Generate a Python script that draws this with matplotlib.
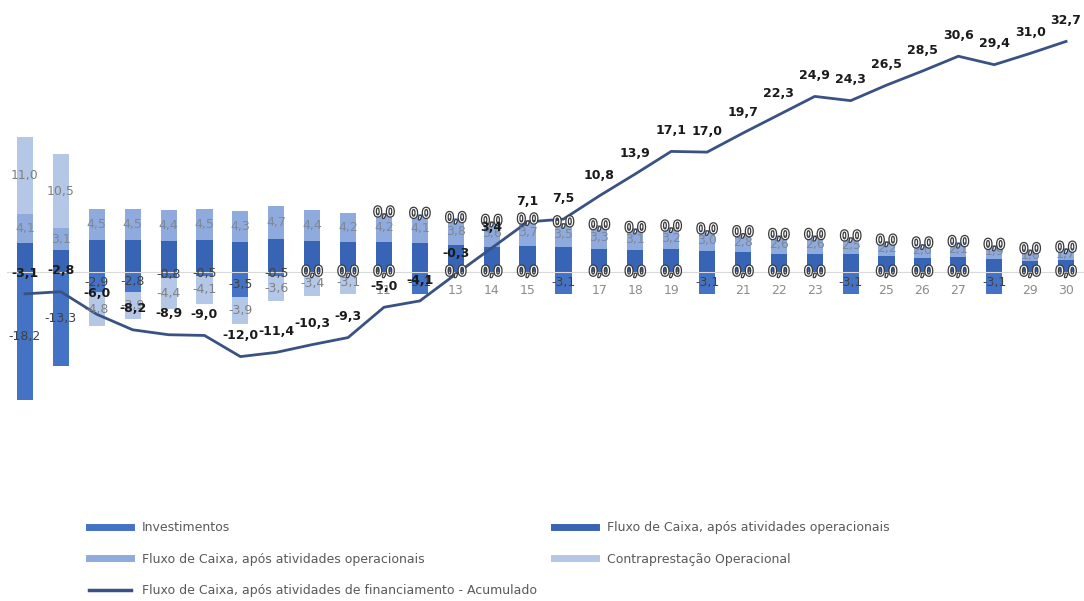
import numpy as np
import matplotlib
matplotlib.use("Agg")
import matplotlib.pyplot as plt
import matplotlib.patheffects as pe
from matplotlib.lines import Line2D

# fluxo de caixa do projeto, anos 1..30 (R$ milhões)
anos = list(range(1, 31))

investimentos = [-18.2, -13.3, -2.9, -2.8, -0.8, -0.5, -3.5, -0.5, 0.0, 0.0,
                 0.0, -3.1, 0.0, 0.0, 0.0, -3.1, 0.0, 0.0, 0.0, -3.1,
                 0.0, 0.0, 0.0, -3.1, 0.0, 0.0, 0.0, -3.1, 0.0, 0.0]
fluxo_oper = [4.1, 3.1, 4.5, 4.5, 4.4, 4.5, 4.3, 4.7, 4.4, 4.2,
              4.2, 4.1, 3.8, 3.6, 3.7, 3.5, 3.3, 3.1, 3.2, 3.0,
              2.8, 2.6, 2.6, 2.5, 2.2, 2.0, 2.1, 1.9, 1.6, 1.7]
# serie repetida no grafico original (barra escura, sem rotulo)
fluxo_oper_escuro = list(fluxo_oper)
contraprestacao = [11.0, 10.5, -4.8, -3.9, -4.4, -4.1, -3.9, -3.6, -3.4, -3.1,
                   0.0, 0.0, 0.0, 0.0, 0.0, 0.0, 0.0, 0.0, 0.0, 0.0,
                   0.0, 0.0, 0.0, 0.0, 0.0, 0.0, 0.0, 0.0, 0.0, 0.0]
acumulado = [-3.1, -2.8, -6.0, -8.2, -8.9, -9.0, -12.0, -11.4, -10.3, -9.3,
             -5.0, -4.1, -0.3, 3.4, 7.1, 7.5, 10.8, 13.9, 17.1, 17.0,
             19.7, 22.3, 24.9, 24.3, 26.5, 28.5, 30.6, 29.4, 31.0, 32.7]

LBL_INV = "Investimentos"
LBL_FLX = "Fluxo de Caixa, após atividades operacionais"
LBL_CTR = "Contraprestação Operacional"
LBL_ACU = "Fluxo de Caixa, após atividades de financiamento - Acumulado"

C_INV = "#4472C4"
C_FLX_D = "#3764B4"
C_FLX = "#8FAADC"
C_CTR = "#B4C7E7"
C_LINE = "#3A5283"

def fmt(v):
    return f"{v:.1f}".replace(".", ",")

hollow = [pe.withStroke(linewidth=1.8, foreground="#3a3a3a")]

fig = plt.figure(figsize=(10.84, 6.01), dpi=100)
ax = fig.add_axes([0.0065, 0.3128, 0.9935, 0.657])

x = np.array(anos)
W = 0.45
pos_base = np.zeros(len(x))
neg_base = np.zeros(len(x))

# (valores, cor, cor do rotulo, mostra rotulo)
series = [
    (investimentos, C_INV, "#404040", True),
    (fluxo_oper_escuro, C_FLX_D, None, False),
    (fluxo_oper, C_FLX, "#7F8798", True),
    (contraprestacao, C_CTR, "#808080", True),
]

labels_to_draw = []
for vals, col, lcol, show in series:
    v = np.array(vals)
    bottom = np.where(v >= 0, pos_base, neg_base)
    ax.bar(x, v, W, bottom=bottom, color=col, zorder=2)
    if show:
        for xi, vi, bi in zip(x, v, bottom):
            labels_to_draw.append((xi, bi + vi / 2, vi, lcol))
    pos_base = pos_base + np.where(v >= 0, v, 0)
    neg_base = neg_base + np.where(v < 0, v, 0)

for xi, yi, vi, lcol in labels_to_draw:
    if vi == 0:
        ax.text(xi, yi, fmt(vi), ha="center", va="center", fontsize=9.5,
                color="white", path_effects=hollow, zorder=5)
    else:
        ax.text(xi, yi, fmt(vi), ha="center", va="center", fontsize=9,
                color=lcol, zorder=5)

ax.plot(x, acumulado, color=C_LINE, lw=2.0, zorder=4)
for xi, yi in zip(x, acumulado):
    ax.annotate(fmt(yi), (xi, yi), xytext=(0, 15), textcoords="offset points",
                ha="center", va="center", fontsize=9, fontweight="bold",
                color="#1a1a1a", zorder=6)

ax.set_xlim(0.5, 30.5)
ax.set_ylim(-20, 36)
ax.set_yticks([])
ax.set_xticks(x)
ax.set_xticklabels([str(a) for a in anos])
ax.tick_params(axis="x", length=0, pad=9, labelsize=9, labelcolor="#8C8C8C")
ax.set_axisbelow(True)
for s in ["top", "right", "left"]:
    ax.spines[s].set_visible(False)
ax.spines["bottom"].set_position(("data", 0))
ax.spines["bottom"].set_color("#D9D9D9")
ax.spines["bottom"].set_zorder(3)
ax.patch.set_alpha(0)

handles = [
    Line2D([], [], color=C_INV, lw=5),
    Line2D([], [], color=C_FLX, lw=5),
    Line2D([], [], color=C_LINE, lw=2.5),
    Line2D([], [], color=C_FLX_D, lw=5),
    Line2D([], [], color=C_CTR, lw=5),
]
names = [LBL_INV, LBL_FLX, LBL_ACU, LBL_FLX, LBL_CTR]
fig.legend(handles, names, loc="upper left", bbox_to_anchor=(0.072, 0.152),
           ncol=2, frameon=False, fontsize=9, handlelength=3.3,
           handletextpad=0.9, labelspacing=1.5, columnspacing=1.4,
           labelcolor="#595959")

fig.savefig("out.png", dpi=100)
